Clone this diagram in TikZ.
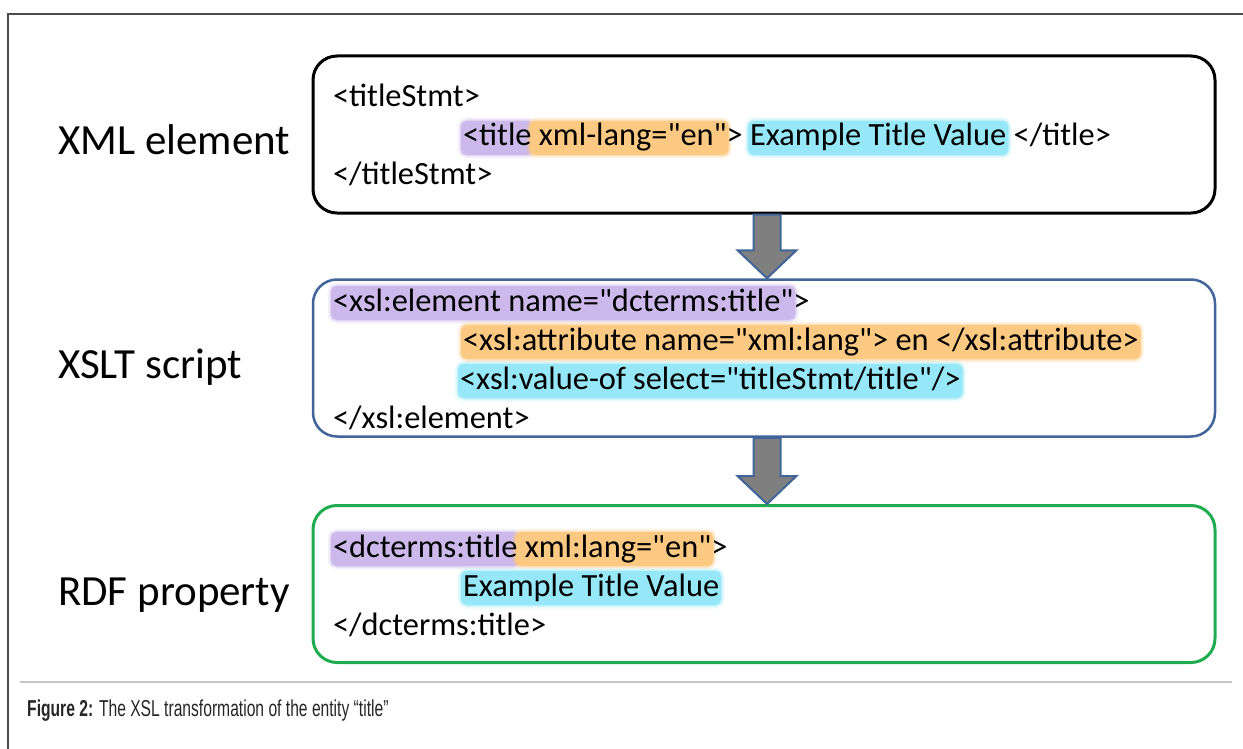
\documentclass[tikz,border=0pt]{standalone}
\usepackage{fontspec}
\setmainfont{Carlito}
\newfontfamily\codefont{Carlito}
\newfontfamily\capfont[FakeStretch=0.68]{Liberation Sans}
\usetikzlibrary{calc,chains,positioning,fit,backgrounds}

\definecolor{hlpurple}{RGB}{204,184,234}
\definecolor{hlorange}{RGB}{252,201,130}
\definecolor{hlcyan}{RGB}{150,231,247}
\definecolor{boxblue}{RGB}{65,101,154}
\definecolor{boxgreen}{RGB}{32,172,78}
\definecolor{arrowgray}{RGB}{127,127,127}

\tikzset{
  codebox/.style={draw=#1, line width=3pt, rounded corners=24pt,
    minimum width=902pt, minimum height=157pt},
  seg/.style={inner sep=0pt, outer sep=0pt, text height=23pt, text depth=7pt,
    font=\codefont\fontsize{32.4}{38}\selectfont},
  rowlabel/.style={anchor=base west, inner sep=0pt, font=\fontsize{43}{50}\selectfont},
  hl/.style={fill=#1, draw=#1, line width=2pt, rounded corners=5pt,
    inner xsep=1pt, inner ysep=1pt,
    preaction={draw=#1, line width=9pt, opacity=0.2},
    preaction={draw=#1, line width=5pt, opacity=0.45}},
  blockarrow/.style={fill=arrowgray, draw=boxblue, line width=2pt, line join=miter},
}

\begin{document}
\begin{tikzpicture}[x=1pt,y=-1pt]
\useasboundingbox (0,0) rectangle (1243,749);

% frame and rule
\draw[black!70, line width=1.5pt] (8,749) -- (8,14) -- (1243,14);
\draw[black!22, line width=1.2pt] (20,682) -- (1232,682);

% the three boxes
\node[codebox=black] (xml) at (764,134.5) {};
\node[codebox=boxblue, line width=2.5pt] (xslt) at (764,358) {};
\node[codebox=boxgreen] (rdf) at (764,584) {};

\node[rowlabel] (lxml) at (58,155) {XML element};
\node[rowlabel] (lxslt) at (58,378) {XSLT script};
\node[rowlabel] (lrdf) at (58,605) {RDF property};

% XML element
\node[seg, anchor=base west] (x1) at (333,107) {<titleStmt>};
\begin{scope}[start chain=going right, node distance=0pt]
\node[seg, on chain, anchor=base west] (x2a) at (463,146) {<title};
\node[seg, on chain] (x2b) {\null\ xml-lang="en"};
\node[seg, on chain] (x2c) {>\ \null};
\node[seg, on chain] (x2d) {Example Title Value};
\node[seg, on chain] (x2e) {\null\ </title>};
\end{scope}
\node[seg, anchor=base west] (x3) at (333,185) {</titleStmt>};

% XSLT script
\begin{scope}[start chain=going right, node distance=0pt]
\node[seg, on chain, anchor=base west] (s1a) at (333,311) {<xsl:element name="dcterms:title"};
\node[seg, on chain] (s1b) {>};
\end{scope}
\node[seg, anchor=base west] (s2) at (463,350) {<xsl:attribute name="xml:lang"> en </xsl:attribute>};
\node[seg, anchor=base west] (s3) at (460,389) {<xsl:value-of select="titleStmt/title"/>};
\node[seg, anchor=base west] (s4) at (333,428) {</xsl:element>};

% RDF property
\begin{scope}[start chain=going right, node distance=0pt]
\node[seg, on chain, anchor=base west] (r1a) at (333,557) {<dcterms:title};
\node[seg, on chain] (r1b) {\null\ xml:lang="en"};
\node[seg, on chain] (r1c) {>};
\end{scope}
\node[seg, anchor=base west] (r2) at (463,596) {Example Title Value};
\node[seg, anchor=base west] (r3) at (333,635) {</dcterms:title>};

% highlighting
\begin{scope}[on background layer]
\node[hl=hlpurple, fit=(x2a)] {};
\node[hl=hlorange, fit=(x2b)] {};
\node[hl=hlcyan, fit=(x2d)] {};
\node[hl=hlpurple, fit=(s1a)] {};
\node[hl=hlorange, fit=(s2)] {};
\node[hl=hlcyan, fit=(s3)] {};
\node[hl=hlpurple, fit=(r1a)] {};
\node[hl=hlorange, fit=(r1b)] {};
\node[hl=hlcyan, fit=(r2)] {};
\end{scope}

% arrows between the boxes
\coordinate (a1) at ([xshift=3pt]xml.south);
\coordinate (b1) at ([xshift=3pt]xslt.north);
\coordinate (a2) at ([xshift=3pt]xslt.south);
\coordinate (b2) at ([xshift=3pt]rdf.north);
\draw[blockarrow] ([xshift=-13.5pt]a1) -- ([xshift=-13.5pt,yshift=28pt]b1)
  -- ([xshift=-29.5pt,yshift=28pt]b1) -- (b1) -- ([xshift=29.5pt,yshift=28pt]b1)
  -- ([xshift=13.5pt,yshift=28pt]b1) -- ([xshift=13.5pt]a1) -- cycle;
\draw[blockarrow] ([xshift=-13.5pt]a2) -- ([xshift=-13.5pt,yshift=28pt]b2)
  -- ([xshift=-29.5pt,yshift=28pt]b2) -- (b2) -- ([xshift=29.5pt,yshift=28pt]b2)
  -- ([xshift=13.5pt,yshift=28pt]b2) -- ([xshift=13.5pt]a2) -- cycle;

\node[anchor=base west, inner sep=0pt, text=black!85,
  font=\capfont\fontsize{23}{27}\selectfont] (cap) at (27,716)
  {\textbf{Figure 2:} The XSL transformation of the entity “title”};
\end{tikzpicture}
\end{document}
